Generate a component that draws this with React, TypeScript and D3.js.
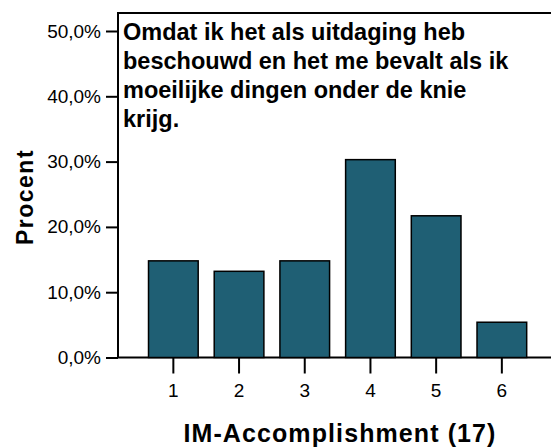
import * as d3 from "d3";
import { useEffect, useRef } from "react";

// values (percent per answer category)
const categories = ["1", "2", "3", "4", "5", "6"];
const percent = [14.8, 13.2, 14.8, 30.3, 21.7, 5.4];
const yTicks = [0, 10, 20, 30, 40, 50];
const titleLines = [
  "Omdat ik het als uitdaging heb",
  "beschouwd en het me bevalt als ik",
  "moeilijke dingen onder de knie",
  "krijg.",
];
const xTitle = "IM-Accomplishment (17)";
const yTitle = "Procent";

const App = () => {
  const ref = useRef<SVGSVGElement>(null);

  useEffect(() => {
    const svg = d3.select(ref.current);
    svg.selectAll("*").remove();

    const font = "'Liberation Sans', Arial, sans-serif";
    const frame = { left: 118, top: 13, right: 553, bottom: 357.5 };

    const x = d3.scaleBand()
      .domain(categories)
      .range([140.5, 534.7])
      .paddingInner(0.244)
      .paddingOuter(0.122);

    const y = d3.scaleLinear().domain([0, 50]).range([357.5, 31]);

    // plot frame
    svg.append("rect")
      .attr("x", frame.left)
      .attr("y", frame.top)
      .attr("width", frame.right - frame.left)
      .attr("height", frame.bottom - frame.top)
      .attr("fill", "none")
      .attr("stroke", "#000")
      .attr("stroke-width", 2);

    // bars
    svg.append("g")
      .selectAll("rect")
      .data(percent)
      .join("rect")
      .attr("x", (d, i) => x(categories[i])!)
      .attr("y", (d) => y(d))
      .attr("width", x.bandwidth())
      .attr("height", (d) => y(0) - y(d))
      .attr("fill", "#1f5f74")
      .attr("stroke", "#000")
      .attr("stroke-width", 1.5);

    // y axis
    const yAxis = svg.append("g")
      .attr("transform", `translate(${frame.left}, 0)`)
      .call(d3.axisLeft(y).tickValues(yTicks).tickSize(12).tickPadding(5)
        .tickFormat((d) => `${(+d).toFixed(1).replace(".", ",")}%`));
    yAxis.select(".domain").remove();
    yAxis.selectAll("line").attr("stroke", "#000").attr("stroke-width", 2);
    yAxis.selectAll("text")
      .attr("font-family", font)
      .attr("font-size", 19)
      .attr("fill", "#000");

    // x axis
    const xAxis = svg.append("g")
      .attr("transform", `translate(0, ${frame.bottom})`)
      .call(d3.axisBottom(x).tickSize(16).tickPadding(10));
    xAxis.select(".domain").remove();
    xAxis.selectAll("line").attr("stroke", "#000").attr("stroke-width", 2);
    xAxis.selectAll("text")
      .attr("font-family", font)
      .attr("font-size", 19)
      .attr("fill", "#000");

    // title inside the plot
    svg.append("g")
      .selectAll("text")
      .data(titleLines)
      .join("text")
      .attr("x", 123)
      .attr("y", (d, i) => 40 + i * 29)
      .attr("font-family", font)
      .attr("font-size", 23.5)
      .attr("font-weight", "bold")
      .text((d) => d);

    // axis titles
    svg.append("text")
      .attr("x", 340)
      .attr("y", 441.5)
      .attr("text-anchor", "middle")
      .attr("font-family", font)
      .attr("font-size", 25)
      .attr("font-weight", "bold")
      .attr("letter-spacing", 1.1)
      .text(xTitle);

    svg.append("text")
      .attr("transform", "translate(33, 197) rotate(-90)")
      .attr("text-anchor", "middle")
      .attr("font-family", font)
      .attr("font-size", 23)
      .attr("font-weight", "bold")
      .attr("letter-spacing", 1.5)
      .text(yTitle);
  }, []);

  return (
    <svg
      ref={ref}
      width={551}
      height={448}
      style={{ position: "absolute", left: 0, top: 0, background: "#fff" }}
    />
  );
};

export default App;
